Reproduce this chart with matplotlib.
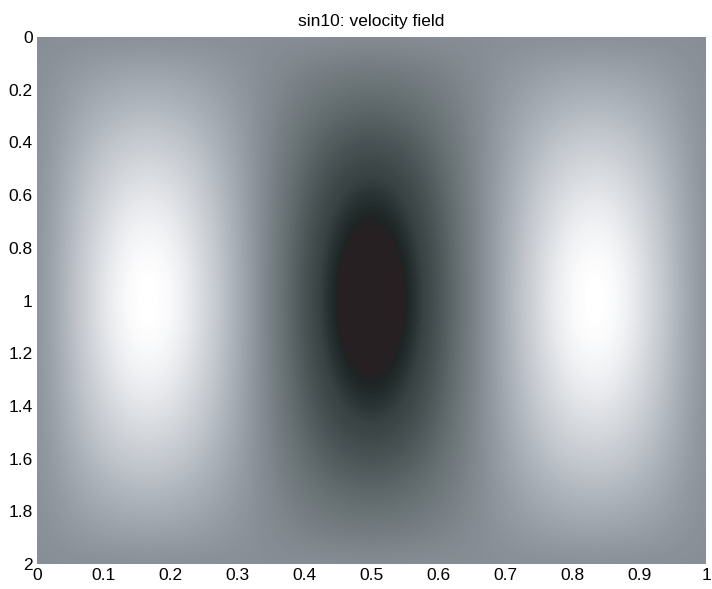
import numpy as np
import matplotlib
matplotlib.use("Agg")
from matplotlib import pyplot as plt
from matplotlib.colors import LinearSegmentedColormap

# profiles (relative to the grey of the border)
x_pos = [0.0, 0.05, 0.1, 0.15, 0.2, 0.25, 0.3, 0.35, 0.4, 0.45, 0.5,
         0.55, 0.6, 0.65, 0.7, 0.75, 0.8, 0.85, 0.9, 0.95, 1.0]
x_profile = [0.0, 0.45, 0.81, 0.99, 0.95, 0.71, 0.31, -0.16, -0.59, -0.89, -1.0,
             -0.89, -0.59, -0.16, 0.31, 0.71, 0.95, 0.99, 0.81, 0.45, 0.0]
y_pos = [0.0, 0.1, 0.2, 0.3, 0.4, 0.5, 0.6, 0.7, 0.8, 0.9, 1.0,
         1.1, 1.2, 1.3, 1.4, 1.5, 1.6, 1.7, 1.8, 1.9, 2.0]
y_profile = [0.0, 0.16, 0.31, 0.45, 0.59, 0.71, 0.81, 0.89, 0.95, 0.99, 1.0,
             0.99, 0.95, 0.89, 0.81, 0.71, 0.59, 0.45, 0.31, 0.16, 0.0]

x_ticks = [0, 0.1, 0.2, 0.3, 0.4, 0.5, 0.6, 0.7, 0.8, 0.9, 1]
y_ticks = [0, 0.2, 0.4, 0.6, 0.8, 1, 1.2, 1.4, 1.6, 1.8, 2]

field = np.outer(y_profile, x_profile)

# colour map, value range -1..1
nodes = [
    (-1.0, "#262022"),
    (-0.87, "#262022"),
    (-0.84, "#1e2626"),
    (-0.72, "#384243"),
    (-0.38, "#606a6c"),
    (0.0, "#888e95"),
    (0.38, "#b0b6bd"),
    (0.71, "#d8dbe0"),
    (0.88, "#f2f3f5"),
    (0.96, "#ffffff"),
    (1.0, "#ffffff"),
]
cmap = LinearSegmentedColormap.from_list(
    "vel", [((v + 1) / 2, c) for v, c in nodes], N=256)

plt.rcParams['font.family'] = ['Liberation Sans', 'DejaVu Sans']

fig = plt.figure(figsize=(7.12, 5.89), dpi=100)
ax = fig.add_axes([0.052, 0.0424, 0.9396, 0.8948])

dx = 0.025
dy = 0.05
ax.imshow(field, cmap=cmap, vmin=-1, vmax=1, aspect='auto',
          interpolation='bicubic', interpolation_stage='data',
          extent=(x_pos[0] - dx, x_pos[-1] + dx, y_pos[-1] + dy, y_pos[0] - dy))
ax.set_xlim(0, 1)
ax.set_ylim(2, 0)

ax.set_xticks(x_ticks)
ax.set_xticklabels(['%g' % t for t in x_ticks])
ax.set_yticks(y_ticks)
ax.set_yticklabels(['%g' % t for t in y_ticks])
ax.tick_params(length=0, labelsize=12.5, colors='black')
ax.tick_params(axis='x', pad=3)
ax.tick_params(axis='y', pad=3)
for s in ax.spines.values():
    s.set_visible(False)

ax.set_title('sin10: velocity field', fontsize=12.5, pad=8)

fig.savefig('out.png', dpi=100)
